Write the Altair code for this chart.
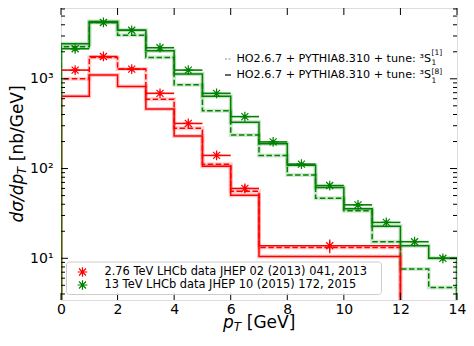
import altair as alt
import pandas as pd

# ---------------- data ----------------
edges_13 = [0, 1, 2, 3, 4, 5, 6, 7, 8, 9, 10, 11, 12, 13, 14]
edges_276 = [0, 1, 2, 3, 4, 5, 6, 7, 12]

# LHCb data
data_13 = [2160, 4240, 3475, 2220, 1250, 689, 379, 198, 112, 64.7, 39.4, 25.1, 15.3, 10.0]
err_13 = [140, 250, 200, 130, 70, 40, 22, 12, 7, 4, 2.5, 1.6, 1.0, 0.7]
data_276 = [1250, 1773, 1283, 689, 318, 140, 60, 13.8]
err_276 = [90, 120, 90, 50, 25, 12, 6, 2.4]

# HO2.6.7 + PYTHIA8.310, tune 3S1[1] (dashed) and 3S1[8] (solid)
s1_13 = [2275, 4240, 3065, 1730, 861, 440, 236, 140, 85, 46.8, 33.9, 15.3, 7.6, 4.74]
s8_13 = [2450, 4345, 3475, 2060, 1132, 638, 327, 189, 109, 61.5, 35.6, 22.7, 13.8, 10.0]
s1_276 = [1000, 1730, 1283, 593, 281, 112, 55.7, 13.2]
s8_276 = [638, 1105, 820, 462, 230, 106, 50.5, 10.5]

x_ticks = [0, 2, 4, 6, 8, 10, 12, 14]
y_major = [10, 100, 1000]
y_labels = ["10\u00b9", "10\u00b2", "10\u00b3"]
y_minor = [m * 10 ** k for k in range(0, 4) for m in range(2, 10)]

RED = "#ff0000"
GREEN = "#008000"
FONT = "DejaVu Sans"
FLOOR = 1.0

W, H = 396, 292
xs = alt.Scale(domain=[0, 14], nice=False, zero=False)
ys = alt.Scale(type="log", domain=[3.43, 6150], nice=False)


def steps(edges, vals, series):
    rows = [(edges[0], FLOOR)]
    for e, v in zip(edges[:-1], vals):
        rows.append((e, v))
    rows.append((edges[-1], vals[-1]))
    rows.append((edges[-1], FLOOR))
    return pd.DataFrame({"x": [r[0] for r in rows], "y": [r[1] for r in rows],
                         "series": series, "i": list(range(len(rows)))})


solid_df = pd.concat([steps(edges_276, s8_276, "2.76"), steps(edges_13, s8_13, "13")])
dashed_df = pd.concat([steps(edges_276, s1_276, "2.76"), steps(edges_13, s1_13, "13")])


def points(edges, vals, errs, series):
    return pd.DataFrame({
        "lo": edges[:-1], "hi": edges[1:],
        "xc": [(a + b) / 2 for a, b in zip(edges[:-1], edges[1:])],
        "v": vals, "vlo": [v - e for v, e in zip(vals, errs)],
        "vhi": [v + e for v, e in zip(vals, errs)], "series": series})


pts_df = pd.concat([points(edges_276, data_276, err_276, "2.76"),
                    points(edges_13, data_13, err_13, "13")])

col = alt.Color("series:N", scale=alt.Scale(domain=["2.76", "13"], range=[RED, GREEN]), legend=None)

STAR = "M0,-1L0,1M-1,0L1,0M-0.72,-0.72L0.72,0.72M-0.72,0.72L0.72,-0.72"


def line_layer(df, dash, width, opacity):
    m = dict(interpolate="step-after", clip=True, strokeWidth=width, opacity=opacity)
    if dash:
        m["strokeDash"] = dash
    return alt.Chart(df).mark_line(**m).encode(
        x=alt.X("x:Q", scale=xs, axis=None),
        y=alt.Y("y:Q", scale=ys, axis=None),
        detail="series:N", color=col, order="i:Q")


halo_s = line_layer(solid_df, None, 4, 0.22)
halo_d = line_layer(dashed_df, None, 4, 0.18)
line_d = line_layer(dashed_df, [5.5, 2.5], 1.5, 1)
line_s = line_layer(solid_df, None, 1.5, 1)

xbar = alt.Chart(pts_df).mark_rule(strokeWidth=1.6, clip=True).encode(
    x=alt.X("lo:Q", scale=xs, axis=None), x2="hi:Q",
    y=alt.Y("v:Q", scale=ys, axis=None), color=col)
ybar = alt.Chart(pts_df).mark_rule(strokeWidth=1.3, clip=True).encode(
    x=alt.X("xc:Q", scale=xs, axis=None),
    y=alt.Y("vlo:Q", scale=ys, axis=None), y2="vhi:Q", color=col)
stars = alt.Chart(pts_df).mark_point(shape=STAR, size=95, strokeWidth=1.2, filled=False, opacity=1).encode(
    x=alt.X("xc:Q", scale=xs, axis=None),
    y=alt.Y("v:Q", scale=ys, axis=None), color=col)

# axes with labels only (ticks drawn inward below)
label_expr = " : ".join(
    f"datum.value == {v} ? '{l}'" for v, l in zip(y_major, y_labels)) + " : ''"
axes_layer = alt.Chart(pd.DataFrame({"x": [0], "y": [10]})).mark_point(opacity=0).encode(
    x=alt.X("x:Q", scale=xs, axis=alt.Axis(values=x_ticks, ticks=False, domain=False, grid=False,
                                           labelFont=FONT, labelFontSize=14, labelColor="black",
                                           labelPadding=2, labelFlush=False, title=None)),
    y=alt.Y("y:Q", scale=ys, axis=alt.Axis(values=y_major, ticks=False, domain=False, grid=False,
                                           labelExpr=label_expr, labelFont=FONT, labelFontSize=14,
                                           labelColor="black", labelPadding=8, labelFlush=False,
                                           title=None)))

ymaj_df = pd.DataFrame({"v": y_major})
ymin_df = pd.DataFrame({"v": y_minor})
xt_df = pd.DataFrame({"v": x_ticks})


def ytick(df, x1, x2):
    return alt.Chart(df).mark_rule(color="black", strokeWidth=1, clip=True).encode(
        y=alt.Y("v:Q", scale=ys, axis=None), x=alt.value(x1), x2=alt.value(x2))


def xtick(df, y1, y2):
    return alt.Chart(df).mark_rule(color="black", strokeWidth=1).encode(
        x=alt.X("v:Q", scale=xs, axis=None), y=alt.value(y1), y2=alt.value(y2))


ticks = [ytick(ymaj_df, 0, 7), ytick(ymin_df, 0, 4), ytick(ymaj_df, W, W - 7), ytick(ymin_df, W, W - 4),
         xtick(xt_df, H, H - 7), xtick(xt_df, 0, 7)]

one = pd.DataFrame({"a": [0]})


def txt(s, x, y, size, align="left", baseline="middle", angle=0, style="normal", color="black"):
    kw = dict(text=s, font=FONT, fontSize=size, align=align, baseline=baseline,
              fontStyle=style, color=color)
    if angle:
        kw["angle"] = angle
    return alt.Chart(one).mark_text(**kw).encode(x=alt.value(x), y=alt.value(y))


# axis titles
titles = [
    txt("p", 162, 320, 17, baseline="alphabetic", style="italic"),
    txt("T", 172.8, 323, 12, baseline="alphabetic", style="italic"),
    txt("[GeV]", 185.8, 320, 17, baseline="alphabetic"),
    txt("d\u03c3/dp", -38, 214.5, 17, baseline="alphabetic", angle=270, style="italic"),
    txt("T", -35, 166.2, 12, baseline="alphabetic", angle=270, style="italic"),
    txt("[nb/GeV]", -38, 153.2, 17, baseline="alphabetic", angle=270),
]

# legend 1 (model curves)
leg1_text = "HO2.6.7 + PYTHIA8.310 + tune: \u00b3S"
LX = 370
leg1 = [
    alt.Chart(one).mark_rule(color="#888888", strokeWidth=1.2, strokeDash=[2, 1.5]).encode(
        x=alt.value(164), x2=alt.value(170), y=alt.value(51)),
    alt.Chart(one).mark_rule(color="black", strokeWidth=1.2).encode(
        x=alt.value(164), x2=alt.value(170), y=alt.value(67)),
    txt(leg1_text, LX, 51, 11.2, align="right"),
    txt("[1]", LX + 0.5, 45.3, 7.5),
    txt("1", LX + 0.5, 55, 7.5),
    txt(leg1_text, LX, 67, 11.2, align="right"),
    txt("[8]", LX + 0.5, 63.5, 7.5),
    txt("1", LX + 0.5, 72.5, 7.5),
]

# legend 2 (data)
leg2 = [
    alt.Chart(one).mark_rect(fill="white", fillOpacity=0.8, stroke="#cccccc", strokeWidth=1,
                             cornerRadius=3).encode(
        x=alt.value(5.5), x2=alt.value(320.5), y=alt.value(254), y2=alt.value(286.5)),
    alt.Chart(one).mark_point(shape=STAR, size=95, strokeWidth=1.2, filled=False, color=RED,
                              opacity=1).encode(x=alt.value(21.5), y=alt.value(264)),
    alt.Chart(one).mark_point(shape=STAR, size=95, strokeWidth=1.2, filled=False, color=GREEN,
                              opacity=1).encode(x=alt.value(21.5), y=alt.value(277)),
    txt("2.76 TeV LHCb data JHEP 02 (2013) 041, 2013", 43.5, 264, 11.4),
    txt("13 TeV LHCb data JHEP 10 (2015) 172, 2015", 43.5, 277, 11.4),
]

chart = alt.layer(
    axes_layer, halo_d, halo_s, line_d, line_s, xbar, ybar, stars, *ticks, *titles, *leg1, *leg2
).resolve_axis(x="independent", y="independent").properties(
    width=W, height=H,
    padding={"left": 53, "top": 0, "right": 9, "bottom": 34},
    autosize=alt.AutoSizeParams(type="none"),
).configure_view(stroke="black", strokeWidth=1).configure(font=FONT)

chart.save("out.html", embed_options={"renderer": "svg", "actions": False})
